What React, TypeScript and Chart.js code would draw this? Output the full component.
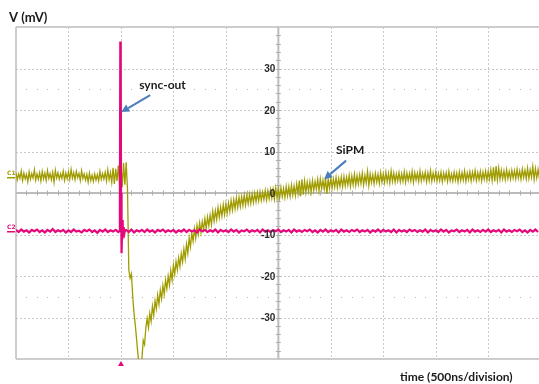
import React, { useEffect, useRef } from 'react';
import { Chart, registerables } from 'chart.js';
Chart.register(...registerables);

// ---- axes (time in ns, voltage in mV) ----
const X_MIN = 0;
const X_MAX = 4984;
const Y_MIN = -40;
const Y_MAX = 40;
const timeGrid = [500, 1000, 1500, 2000, 2500, 3000, 3500, 4000, 4500];
const voltGrid = [-30, -20, -10, 10, 20, 30];
const dottedLevels = [-25, 25];
const labelledTicks = [-30, -20, -10, 0, 10, 20, 30];
const centerTime = 2500;
const triggerTime = 1000;

// ---- channel 1 (SiPM), sampled every 12.5 ns from 0 ns ----
const c1Step = 12.5;
const c1Values = [
  4.9, 3.2, 4.6, 3.5, 5.3, 3.0, 4.8, 3.4, 4.5, 2.7, 5.1, 3.3, 4.7, 3.6, 5.6, 3.1, 4.6, 3.3, 4.9, 2.9,
  5.2, 3.4, 4.8, 3.0, 5.4, 3.5, 4.7, 3.2, 5.0, 2.6, 5.5, 3.6, 4.9, 3.3, 4.6, 3.5, 5.3, 3.1, 4.8, 3.4,
  5.1, 3.3, 5.7, 3.6, 4.9, 3.2, 5.2, 3.7, 4.7, 3.0, 5.4, 3.5, 4.6, 3.1, 4.5, 2.6, 4.8, 3.0, 4.3, 2.8,
  4.6, 3.1, 4.4, 2.9, 5.2, 3.3, 4.7, 3.4, 5.0, 2.9, 5.6, 3.2, 4.9, 2.6, 6.1, 2.2, 5.8, 2.9, 6.6, 1.9,
  6.9, 1.4, 7.2, 2.0, 7.4, 0.9, -18.5, -20.5, -19.5, -25.0, -29.0, -32.0, -35.5, -39.0, -42.0, -42.5, -40.0, -35.5, -36.5, -32.5,
  -30.2, -32.4, -29.0, -30.9, -27.3, -29.5, -26.0, -27.9, -24.6, -26.8, -23.4, -25.5, -22.3, -24.4, -21.0, -23.1, -20.0, -22.2, -18.7, -21.0,
  -17.4, -19.6, -16.5, -18.5, -15.6, -17.7, -14.6, -16.6, -13.5, -15.9, -12.3, -14.5, -10.8, -13.0, -9.7, -11.6, -8.6, -10.9, -7.8, -9.9,
  -7.2, -9.5, -6.9, -8.8, -6.2, -8.6, -5.8, -7.9, -5.3, -7.6, -4.4, -6.8, -4.3, -6.4, -3.5, -5.9, -3.4, -5.6, -2.8, -5.2,
  -2.7, -4.9, -2.4, -4.5, -1.8, -4.1, -1.6, -3.8, -1.2, -3.5, -1.0, -3.3, -0.9, -3.0, -0.5, -2.9, -0.6, -2.6, -0.3, -2.5,
  -0.2, -2.3, 0.0, -2.1, 0.1, -1.9, 0.3, -1.8, 0.2, -1.6, 0.6, -1.7, 0.5, -1.4, 0.8, -1.3, 0.9, -1.5, 1.2, -1.1,
  1.0, -1.2, 1.3, -0.9, 1.1, -1.1, 1.6, -0.7, 1.5, -0.8, 1.9, -0.5, 1.7, -0.6, 2.2, -0.2, 3.0, -0.8, 3.3, -0.4,
  2.9, 0.1, 2.6, 0.4, 2.7, 0.3, 3.0, 0.6, 2.8, 0.9, 3.3, 0.5, 3.4, 1.0, 3.1, 0.9, 3.6, -0.2, 3.4, 1.1,
  3.6, 1.2, 3.4, 1.4, 3.8, 1.3, 3.5, 1.6, 3.9, 1.5, 4.0, 1.7, 3.8, 1.9, 4.3, 1.6, 4.1, 2.0, 4.5, 1.9,
  4.2, 2.1, 4.4, 2.3, 4.8, 1.9, 4.3, 2.4, 5.2, 1.8, 4.6, 2.5, 4.4, 2.2, 4.7, 2.6, 4.5, 2.3, 4.9, 2.6,
  4.6, 2.5, 5.0, 2.7, 4.7, 2.4, 5.3, 2.8, 4.8, 2.6, 4.6, 2.9, 4.9, 2.7, 4.6, 2.8, 5.1, 2.6, 4.8, 3.0,
  4.7, 2.9, 5.2, 2.6, 4.9, 3.1, 4.8, 2.8, 5.3, 2.9, 4.7, 3.2, 5.0, 2.7, 4.9, 3.0, 5.4, 2.8, 4.8, 3.1,
  5.1, 2.9, 4.7, 3.0, 5.0, 2.7, 4.8, 3.2, 4.9, 2.8, 5.2, 3.0, 4.6, 2.9, 5.0, 3.1, 4.8, 2.7, 5.1, 3.0,
  4.9, 3.1, 5.3, 2.8, 4.8, 3.2, 5.1, 2.9, 5.0, 3.3, 5.4, 3.0, 4.9, 3.2, 5.2, 2.9, 5.0, 3.3, 5.3, 3.1,
  5.2, 3.3, 5.6, 3.0, 6.2, 2.8, 6.5, 3.1, 6.0, 3.3, 5.5, 3.4, 5.3, 3.2, 5.6, 3.5, 5.2, 3.3, 5.5, 3.6,
  5.4, 3.4, 5.7, 3.6, 5.3, 3.3, 5.8, 3.7, 5.5, 3.4, 6.0, 3.5, 5.6, 3.8, 6.4, 3.3, 5.9, 3.6, 5.7, 3.5,
];

// ---- channel 2 (sync-out), sampled every 25 ns from 0 ns ----
const c2Step = 25;
const c2Values = [
  -8.9, -9.4, -8.8, -9.3, -9.0, -9.5, -8.9, -9.2, -8.8, -9.4, -9.0, -9.5, -8.9, -9.3, -8.7, -9.4, -9.0, -9.3, -8.9, -9.5,
  -9.0, -9.4, -8.8, -9.3, -9.1, -9.5, -8.9, -9.2, -8.8, -9.4, -9.0, -9.6, -8.9, -9.3, -8.8, -9.4, -9.0, -9.3, -8.9, -9.4,
  -9.0, -9.3, -8.9, -9.4, -8.8, -9.5, -9.0, -9.3, -8.9, -9.4, -8.8, -9.3, -9.0, -9.5, -8.9, -9.2, -8.8, -9.4, -9.0, -9.3,
  -8.9, -9.5, -9.0, -9.3, -8.8, -9.4, -8.9, -9.3, -9.0, -9.5, -8.8, -9.2, -8.9, -9.4, -9.0, -9.3, -8.8, -9.5, -8.9, -9.3,
  -9.0, -9.4, -8.8, -9.3, -8.9, -9.5, -9.0, -9.2, -8.8, -9.4, -9.0, -9.3, -8.9, -9.5, -8.8, -9.3, -9.0, -9.4, -8.9, -9.2,
  -8.8, -9.4, -9.0, -9.3, -8.9, -9.5, -8.8, -9.3, -9.0, -9.4, -8.9, -9.2, -8.8, -9.4, -9.0, -9.5, -8.9, -9.3, -8.8, -9.4,
  -9.0, -9.3, -8.9, -9.5, -8.8, -9.3, -9.0, -9.4, -8.9, -9.2, -8.8, -9.4, -9.0, -9.3, -8.9, -9.5, -9.0, -9.3, -8.8, -9.4,
  -8.9, -9.3, -9.0, -9.4, -8.8, -9.5, -8.9, -9.3, -9.0, -9.4, -8.8, -9.2, -8.9, -9.4, -9.0, -9.3, -8.8, -9.5, -8.9, -9.3,
  -9.0, -9.4, -8.8, -9.3, -8.9, -9.5, -9.0, -9.2, -8.8, -9.4, -9.0, -9.3, -8.9, -9.5, -8.8, -9.3, -9.0, -9.4, -8.9, -9.3,
  -8.8, -9.4, -9.0, -9.3, -8.9, -9.5, -8.8, -9.3, -9.0, -9.4, -8.9, -9.2, -8.8, -9.4, -9.0, -9.5, -8.9, -9.3, -8.8, -9.4,
];
// the sync pulse, finely sampled
const c2SpikeTimes = [985, 990, 994, 998, 1001, 1004, 1008, 1012, 1016, 1020, 1026, 1032, 1040];
const c2SpikeValues = [-9.2, -3.0, 36.5, 30.0, 0.0, -13.5, -14.5, -8.0, -6.5, -10.5, -8.2, -9.8, -9.0];

// ---- annotations ----
const syncLabel = { text: 'sync-out', t: 1174, v: 25 };
const syncArrow = { t0: 1279, v0: 23.6, t1: 1003, v1: 19.5 };
const sipmLabel = { text: 'SiPM', t: 3050, v: 9.4 };
const sipmArrow = { t0: 3146, v0: 7.8, t1: 2936, v1: 3.3 };
const yTitle = 'V (mV)';
const xTitle = 'time (500ns/division)';
const channelMarks = [
  { text: 'C1', v: 3.9, color: '#a09c00' },
  { text: 'C2', v: -9.1, color: '#e4087a' },
];

const OLIVE = '#a09c00';
const PINK = '#e4087a';
const ARROW = '#4a7ebb';

function buildC1() {
  return c1Values.map((v, i) => ({ x: i * c1Step, y: v }));
}
function buildC2() {
  const pts = c2Values
    .map((v, i) => ({ x: i * c2Step, y: v }))
    .filter((p) => p.x < c2SpikeTimes[0] || p.x > c2SpikeTimes[c2SpikeTimes.length - 1]);
  c2SpikeTimes.forEach((t, i) => pts.push({ x: t, y: c2SpikeValues[i] }));
  pts.sort((a, b) => a.x - b.x);
  return pts;
}

function drawArrow(ctx: CanvasRenderingContext2D, x0: number, y0: number, x1: number, y1: number) {
  const ang = Math.atan2(y1 - y0, x1 - x0);
  const hl = 8;
  const hw = 4;
  const bx = x1 - hl * Math.cos(ang);
  const by = y1 - hl * Math.sin(ang);
  ctx.strokeStyle = ARROW;
  ctx.fillStyle = ARROW;
  ctx.lineWidth = 2;
  ctx.beginPath();
  ctx.moveTo(x0, y0);
  ctx.lineTo(bx, by);
  ctx.stroke();
  ctx.beginPath();
  ctx.moveTo(x1, y1);
  ctx.lineTo(bx + hw * Math.sin(ang), by - hw * Math.cos(ang));
  ctx.lineTo(bx - hw * Math.sin(ang), by + hw * Math.cos(ang));
  ctx.closePath();
  ctx.fill();
}

const scopePlugin = {
  id: 'scopeOverlay',
  beforeDatasetsDraw(chart: any) {
    const { ctx, chartArea: a, scales } = chart;
    const x = scales.x;
    const y = scales.y;
    const line = (x0: number, y0: number, x1: number, y1: number) => {
      ctx.beginPath();
      ctx.moveTo(x0, y0);
      ctx.lineTo(x1, y1);
      ctx.stroke();
    };
    ctx.save();
    // dashed division grid
    ctx.strokeStyle = '#c8c8c8';
    ctx.lineWidth = 1;
    ctx.setLineDash([2, 2]);
    timeGrid.forEach((t) => {
      if (t === centerTime) return;
      const px = Math.round(x.getPixelForValue(t)) + 0.5;
      line(px, a.top, px, a.bottom);
    });
    voltGrid.forEach((v) => {
      const py = Math.round(y.getPixelForValue(v)) + 0.5;
      line(a.left, py, a.right, py);
    });
    ctx.setLineDash([]);
    // dotted levels
    ctx.fillStyle = '#b5b5b5';
    dottedLevels.forEach((v) => {
      const py = Math.round(y.getPixelForValue(v));
      for (let t = 100; t < X_MAX; t += 100) {
        if (t % 500 === 0) continue;
        ctx.fillRect(Math.round(x.getPixelForValue(t)), py, 1, 1);
      }
    });
    // outer frame
    ctx.strokeStyle = '#bdbdbd';
    ctx.lineWidth = 1.5;
    line(a.left, a.top, a.right, a.top);
    line(a.left, a.bottom, a.right, a.bottom);
    line(a.left, a.top, a.left, a.bottom);
    // centre axes
    const cx = x.getPixelForValue(centerTime);
    const cy = y.getPixelForValue(0);
    ctx.strokeStyle = '#bcbcbc';
    ctx.lineWidth = 2;
    line(cx, a.top, cx, a.bottom);
    line(a.left, cy, a.right, cy);
    // minor ticks
    ctx.strokeStyle = '#b0b0b0';
    ctx.lineWidth = 1;
    for (let v = Y_MIN + 2; v < Y_MAX; v += 2) {
      const py = Math.round(y.getPixelForValue(v)) + 0.5;
      line(cx - 2.5, py, cx + 2.5, py);
    }
    for (let t = 100; t < X_MAX; t += 100) {
      const px = Math.round(x.getPixelForValue(t)) + 0.5;
      line(px, cy - 2.5, px, cy + 2.5);
    }
    ctx.restore();
  },
  afterDatasetsDraw(chart: any) {
    const { ctx, chartArea: a, scales } = chart;
    const x = scales.x;
    const y = scales.y;
    const cx = x.getPixelForValue(centerTime);
    ctx.save();
    // tick labels from the y scale, beside the centre axis
    ctx.fillStyle = '#2a2a2a';
    ctx.font = 'bold 10px "Liberation Sans"';
    ctx.textAlign = 'right';
    ctx.textBaseline = 'middle';
    y.ticks.forEach((tk: any) => {
      if (!labelledTicks.includes(tk.value)) return;
      ctx.fillText(String(tk.value), cx - 3, y.getPixelForValue(tk.value) + 1);
    });
    // channel ground markers
    channelMarks.forEach((m) => {
      const py = Math.round(y.getPixelForValue(m.v));
      ctx.fillStyle = m.color;
      ctx.font = 'bold 6px "DejaVu Sans"';
      ctx.textAlign = 'left';
      ctx.textBaseline = 'alphabetic';
      ctx.fillText(m.text, 7, py - 2);
      ctx.fillRect(7, py, 8, 1.5);
    });
    // trigger marker
    const tx = x.getPixelForValue(triggerTime);
    ctx.fillStyle = PINK;
    ctx.beginPath();
    ctx.moveTo(tx, a.bottom + 2);
    ctx.lineTo(tx + 3, a.bottom + 7);
    ctx.lineTo(tx - 3, a.bottom + 7);
    ctx.closePath();
    ctx.fill();
    // annotations
    ctx.fillStyle = '#1a1a1a';
    ctx.font = 'bold 12px Lato';
    ctx.textAlign = 'left';
    ctx.textBaseline = 'alphabetic';
    ctx.fillText(syncLabel.text, x.getPixelForValue(syncLabel.t), y.getPixelForValue(syncLabel.v));
    ctx.fillText(sipmLabel.text, x.getPixelForValue(sipmLabel.t), y.getPixelForValue(sipmLabel.v));
    drawArrow(ctx, x.getPixelForValue(syncArrow.t0), y.getPixelForValue(syncArrow.v0), x.getPixelForValue(syncArrow.t1), y.getPixelForValue(syncArrow.v1));
    drawArrow(ctx, x.getPixelForValue(sipmArrow.t0), y.getPixelForValue(sipmArrow.v0), x.getPixelForValue(sipmArrow.t1), y.getPixelForValue(sipmArrow.v1));
    // axis titles
    ctx.fillStyle = '#1a1a1a';
    ctx.font = 'bold 13px Lato';
    ctx.fillText(yTitle, 9, 22);
    ctx.font = 'bold 12px Lato';
    ctx.fillText(xTitle, 400, 381);
    ctx.restore();
  },
};

export default function App() {
  const ref = useRef<HTMLCanvasElement | null>(null);
  useEffect(() => {
    if (!ref.current) return;
    const chart = new Chart(ref.current, {
      type: 'line',
      data: {
        datasets: [
          {
            label: 'C2',
            data: buildC2(),
            borderColor: PINK,
            borderWidth: 2.2,
            pointRadius: 0,
            tension: 0,
          },
          {
            label: 'C1',
            data: buildC1(),
            borderColor: OLIVE,
            borderWidth: 1.3,
            pointRadius: 0,
            tension: 0,
          },
        ],
      },
      options: {
        animation: false,
        responsive: false,
        devicePixelRatio: 1,
        layout: { padding: { left: 16, top: 27, right: 0, bottom: 25 } },
        plugins: { legend: { display: false }, tooltip: { enabled: false }, title: { display: false } },
        scales: {
          x: { type: 'linear', min: X_MIN, max: X_MAX, display: false },
          y: {
            type: 'linear',
            min: Y_MIN,
            max: Y_MAX,
            display: false,
            ticks: { stepSize: 10 },
          },
        },
      },
      plugins: [scopePlugin],
    });
    return () => chart.destroy();
  }, []);
  return (
    <div style={{ position: 'fixed', left: 0, top: 0, width: 539, height: 384, background: '#fff' }}>
      <canvas ref={ref} width={539} height={384} style={{ display: 'block' }} />
    </div>
  );
}
